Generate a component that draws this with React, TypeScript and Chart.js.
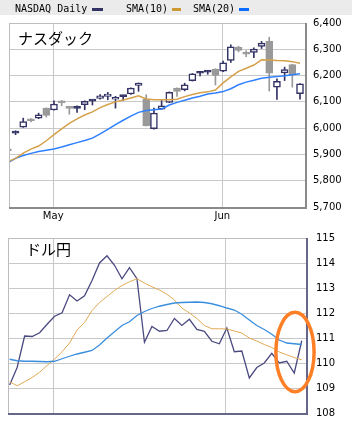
import React, { useEffect, useRef } from 'react';
import { Chart, registerables } from 'chart.js';

Chart.register(...registerables);

// ---------- NASDAQ (top panel) ----------
const nasdaqDates = [
  '2017-04-21', '2017-04-24', '2017-04-25', '2017-04-26', '2017-04-27', '2017-04-28',
  '2017-05-01', '2017-05-02', '2017-05-03', '2017-05-04', '2017-05-05', '2017-05-08',
  '2017-05-09', '2017-05-10', '2017-05-11', '2017-05-12', '2017-05-15', '2017-05-16',
  '2017-05-17', '2017-05-18', '2017-05-19', '2017-05-22', '2017-05-23', '2017-05-24',
  '2017-05-25', '2017-05-26', '2017-05-30', '2017-05-31', '2017-06-01', '2017-06-02',
  '2017-06-05', '2017-06-06', '2017-06-07', '2017-06-08', '2017-06-09', '2017-06-12',
  '2017-06-13', '2017-06-14', '2017-06-15',
];
const nasdaqOpen = [
  5921, 5981, 6004, 6030, 6038, 6076, 6069, 6104, 6077, 6075, 6089, 6103, 6113,
  6121, 6110, 6120, 6130, 6163, 6110, 5998, 6072, 6098, 6152, 6146, 6181, 6209,
  6213, 6225, 6217, 6258, 6308, 6283, 6288, 6311, 6331, 6156, 6210, 6242, 6131,
];
const nasdaqHigh = [
  5922, 5990, 6038, 6036, 6057, 6077, 6104, 6105, 6079, 6085, 6104, 6108, 6128,
  6136, 6121, 6125, 6153, 6172, 6127, 6076, 6105, 6138, 6153, 6171, 6208, 6216,
  6220, 6226, 6255, 6317, 6312, 6295, 6306, 6330, 6346, 6188, 6232, 6243, 6170,
];
const nasdaqLow = [
  5912, 5975, 6003, 6024, 6036, 6042, 6068, 6085, 6053, 6060, 6070, 6088, 6110,
  6108, 6076, 6105, 6128, 6140, 6008, 5996, 6071, 6097, 6121, 6142, 6179, 6199,
  6205, 6164, 6215, 6250, 6290, 6272, 6268, 6303, 6141, 6109, 6181, 6156, 6110,
];
const nasdaqClose = [
  5913, 5983, 6025, 6028, 6051, 6048, 6092, 6096, 6075, 6077, 6102, 6105, 6123,
  6130, 6117, 6122, 6152, 6171, 6009, 6057, 6085, 6136, 6140, 6165, 6207, 6211,
  6215, 6201, 6248, 6309, 6296, 6281, 6301, 6324, 6209, 6178, 6223, 6202, 6169,
];
const nasdaqSma10 = [
  5872, 5885, 5905, 5920, 5932, 5952, 5975, 5997, 6018, 6035, 6050, 6062, 6078,
  6090, 6100, 6107, 6115, 6123, 6111, 6108, 6108, 6108, 6110, 6120, 6128, 6135,
  6138, 6145, 6172, 6195, 6216, 6228, 6240, 6260, 6259, 6257, 6256, 6253, 6247,
];
const nasdaqSma20 = [
  5868, 5885, 5896, 5904, 5911, 5916, 5921, 5928, 5937, 5945, 5953, 5962, 5978,
  5995, 6013, 6030, 6046, 6060, 6067, 6070, 6073, 6088, 6098, 6106, 6115, 6121,
  6130, 6134, 6139, 6150, 6165, 6175, 6182, 6190, 6194, 6196, 6199, 6203, 6207,
];
const nasdaqAxisMin = 5700;
const nasdaqAxisMax = 6400;
const nasdaqAxisStep = 100;

// ---------- USD/JPY (bottom panel) ----------
const fxDates = [
  '2017-04-21', '2017-04-24', '2017-04-25', '2017-04-26', '2017-04-27', '2017-04-28',
  '2017-05-01', '2017-05-02', '2017-05-03', '2017-05-04', '2017-05-05', '2017-05-08',
  '2017-05-09', '2017-05-10', '2017-05-11', '2017-05-12', '2017-05-15', '2017-05-16',
  '2017-05-17', '2017-05-18', '2017-05-19', '2017-05-22', '2017-05-23', '2017-05-24',
  '2017-05-25', '2017-05-26', '2017-05-29', '2017-05-30', '2017-05-31', '2017-06-01',
  '2017-06-02', '2017-06-05', '2017-06-06', '2017-06-07', '2017-06-08', '2017-06-09',
  '2017-06-12', '2017-06-13', '2017-06-14', '2017-06-15',
];
const usdJpy = [
  109.12, 109.82, 111.08, 111.06, 111.21, 111.55, 111.87, 112.01, 112.73, 112.48,
  112.69, 113.3, 114.0, 114.29, 113.91, 113.37, 113.81, 113.37, 110.83, 111.46,
  111.27, 111.3, 111.78, 111.5, 111.75, 111.34, 111.27, 110.87, 110.77, 111.4,
  110.45, 110.48, 109.4, 109.82, 110.0, 110.39, 110.0, 110.07, 109.6, 110.89,
];
const usdJpySma10 = [
  109.25, 109.09, 109.25, 109.42, 109.63, 109.9, 110.16, 110.45, 110.8, 111.32,
  111.62, 112.1, 112.42, 112.66, 112.9, 113.1, 113.25, 113.37, 113.2, 113.05,
  112.92, 112.75, 112.52, 112.2, 112.0, 111.78, 111.5, 111.37, 111.37, 111.36,
  111.28, 111.2, 111.0, 110.88, 110.74, 110.62, 110.44, 110.33, 110.22, 110.13,
];
const usdJpySma20 = [
  110.15, 110.09, 110.07, 110.07, 110.06, 110.05, 110.07, 110.17, 110.27, 110.36,
  110.43, 110.5, 110.72, 111.0, 111.25, 111.5, 111.65, 111.9, 112.06, 112.18,
  112.27, 112.34, 112.4, 112.42, 112.43, 112.44, 112.42, 112.37, 112.29, 112.2,
  112.12, 111.95, 111.72, 111.5, 111.34, 111.15, 110.92, 110.8, 110.77, 110.74,
];
const fxAxisMin = 108;
const fxAxisMax = 115;
const fxAxisStep = 1;

// Highlight ellipse around the latest USD/JPY moves (data units)
const highlightCenterIdx = 38.1;
const highlightCenterValue = 110.44;
const highlightHalfWidthIdx = 2.55;
const highlightHalfHeightValue = 1.59;

// Month ticks
const monthLabels = ['May', 'Jun'];
const monthStartDates = ['2017-05-01', '2017-06-01'];

// Legend entries
const legendLabels = ['NASDAQ Daily', 'SMA(10)', 'SMA(20)'];

// ---------- styles ----------
const NAVY = '#333366';
const GREY = '#999999';
const ORANGE = '#d4a04a';
const BLUE = '#2f80ff';
const GRID = '#c8c8c8';
const TICK_FONT = { family: 'DejaVu Sans', size: 10 };

const monthTickValues = (dates: string[], shift: number) =>
  monthStartDates.map((d) => dates.indexOf(d) - shift);

const framePlugin = (
  id: string,
  title: string,
  titleX: number,
  titleY: number,
  light: string,
  dark: string,
) => ({
  id,
  afterDraw(chart: any) {
    const { ctx, chartArea: a } = chart;
    ctx.save();
    ctx.lineWidth = 1;
    ctx.strokeStyle = light;
    ctx.beginPath();
    ctx.moveTo(a.left + 0.5, a.bottom);
    ctx.lineTo(a.left + 0.5, a.top + 0.5);
    ctx.lineTo(a.right, a.top + 0.5);
    ctx.stroke();
    ctx.lineWidth = 2;
    ctx.strokeStyle = dark;
    ctx.beginPath();
    ctx.moveTo(a.left, a.bottom + 1);
    ctx.lineTo(a.right + 1, a.bottom + 1);
    ctx.lineTo(a.right + 1, a.top);
    ctx.stroke();
    ctx.fillStyle = '#000';
    ctx.font = '15px "Noto Sans CJK JP"';
    ctx.textBaseline = 'middle';
    ctx.textAlign = 'left';
    ctx.fillText(title, titleX, titleY);
    ctx.restore();
  },
});

const legendPlugin = {
  id: 'legendBand',
  beforeDraw(chart: any) {
    const { ctx, width } = chart;
    ctx.save();
    ctx.fillStyle = '#ebebeb';
    ctx.fillRect(0, 0, width, 15);
    ctx.font = '10px "DejaVu Sans Mono"';
    ctx.textBaseline = 'middle';
    ctx.fillStyle = '#000';
    const textX = [15, 126, 193];
    const swatchX = [92, 172, 239];
    const swatchW = [11, 9, 10];
    const colors = [NAVY, '#cc9933', '#0a6cff'];
    legendLabels.forEach((label, i) => {
      ctx.fillStyle = '#000';
      ctx.fillText(label, textX[i], 9);
      ctx.fillStyle = colors[i];
      ctx.fillRect(swatchX[i], 8, swatchW[i], 3);
    });
    ctx.restore();
  },
};

const ellipsePlugin = {
  id: 'highlight',
  afterDraw(chart: any) {
    const { ctx, scales } = chart;
    const xs = scales.x;
    const ys = scales.y;
    const cx = xs.getPixelForValue(highlightCenterIdx);
    const cy = ys.getPixelForValue(highlightCenterValue);
    const rx = Math.abs(xs.getPixelForValue(highlightCenterIdx + highlightHalfWidthIdx) - cx);
    const ry = Math.abs(ys.getPixelForValue(highlightCenterValue + highlightHalfHeightValue) - cy);
    ctx.save();
    ctx.strokeStyle = '#ff7f27';
    ctx.lineWidth = 3.5;
    ctx.beginPath();
    ctx.ellipse(cx, cy, rx, ry, 0, 0, Math.PI * 2);
    ctx.stroke();
    ctx.restore();
  },
};

export default function App() {
  const topRef = useRef<HTMLCanvasElement>(null);
  const botRef = useRef<HTMLCanvasElement>(null);

  useEffect(() => {
    const up = nasdaqOpen.map((o, i) => nasdaqClose[i] >= o);
    const doji = nasdaqOpen.map((o, i) => Math.abs(nasdaqClose[i] - o) <= 3);
    const candleColor = up.map((u) => (u ? NAVY : GREY));
    const bodyFill = up.map((u, i) => (doji[i] ? candleColor[i] : u ? '#ffffff' : GREY));

    const topMonthTicks = monthTickValues(nasdaqDates, 0.1);
    const fxMonthTicks = monthTickValues(fxDates, 0.15);

    const topChart = new Chart(topRef.current as HTMLCanvasElement, {
      type: 'bar',
      data: {
        datasets: [
          {
            type: 'line',
            data: nasdaqSma10.map((v, i) => ({ x: i, y: v })),
            borderColor: ORANGE,
            borderWidth: 1.5,
            pointRadius: 0,
            tension: 0,
            order: 0,
          } as any,
          {
            type: 'line',
            data: nasdaqSma20.map((v, i) => ({ x: i, y: v })),
            borderColor: BLUE,
            borderWidth: 1.5,
            pointRadius: 0,
            tension: 0,
            order: 0,
          } as any,
          {
            type: 'bar',
            data: nasdaqOpen.map((o, i) => ({ x: i, y: [o, nasdaqClose[i]] })),
            backgroundColor: bodyFill,
            borderColor: candleColor,
            borderWidth: 1.5,
            borderSkipped: false,
            barThickness: 7,
            minBarLength: 2,
            grouped: false,
            order: 1,
          } as any,
          {
            type: 'bar',
            data: nasdaqLow.map((l, i) => ({ x: i, y: [l, nasdaqHigh[i]] })),
            backgroundColor: candleColor,
            borderWidth: 0,
            barThickness: 1,
            grouped: false,
            order: 2,
          } as any,
        ],
      },
      options: {
        responsive: false,
        animation: false,
        layout: { padding: { top: 23, left: 9, right: 0, bottom: 0 } },
        plugins: { legend: { display: false }, tooltip: { enabled: false } },
        scales: {
          x: {
            type: 'linear',
            min: 0.15,
            max: 38.65,
            offset: false,
            grid: { color: GRID, drawTicks: false, offset: false },
            border: { display: false },
            afterBuildTicks: (axis: any) => {
              axis.ticks = topMonthTicks.map((v) => ({ value: v }));
            },
            afterFit: (axis: any) => {
              axis.height = 15;
            },
            ticks: {
              autoSkip: false,
              maxRotation: 0,
              padding: 3,
              color: '#000',
              font: TICK_FONT,
              callback: (_v: any, i: number) => monthLabels[i],
            },
          },
          y: {
            position: 'right',
            min: nasdaqAxisMin,
            max: nasdaqAxisMax,
            beginAtZero: false,
            grid: { color: GRID, drawTicks: false },
            border: { display: false },
            afterFit: (axis: any) => {
              axis.width = 47;
            },
            ticks: {
              stepSize: nasdaqAxisStep,
              padding: 8,
              color: '#000',
              font: TICK_FONT,
              callback: (v: any) => Number(v).toLocaleString('en-US'),
            },
          },
        },
      } as any,
      plugins: [legendPlugin, framePlugin('topFrame', 'ナスダック', 18, 38.5, '#bdbdbd', '#8a8a8a')],
    });

    const botChart = new Chart(botRef.current as HTMLCanvasElement, {
      type: 'line',
      data: {
        datasets: [
          {
            data: usdJpySma20.map((v, i) => ({ x: i, y: v })),
            borderColor: '#3a8ede',
            borderWidth: 1.3,
            pointRadius: 0,
            tension: 0,
          },
          {
            data: usdJpySma10.map((v, i) => ({ x: i, y: v })),
            borderColor: '#e0aa55',
            borderWidth: 1,
            pointRadius: 0,
            tension: 0,
          },
          {
            data: usdJpy.map((v, i) => ({ x: i, y: v })),
            borderColor: '#4a4a80',
            borderWidth: 1.3,
            pointRadius: 0,
            tension: 0,
          },
        ],
      },
      options: {
        responsive: false,
        animation: false,
        layout: { padding: { top: 10, left: 8, right: 0, bottom: 13 } },
        plugins: { legend: { display: false }, tooltip: { enabled: false } },
        scales: {
          x: {
            type: 'linear',
            min: -0.22,
            max: 39.57,
            offset: false,
            grid: { color: GRID, drawTicks: false, offset: false },
            border: { display: false },
            afterBuildTicks: (axis: any) => {
              axis.ticks = fxMonthTicks.map((v) => ({ value: v }));
            },
            afterFit: (axis: any) => {
              axis.height = 0;
            },
            ticks: { display: false },
          },
          y: {
            position: 'right',
            min: fxAxisMin,
            max: fxAxisMax,
            grid: { color: GRID, drawTicks: false },
            border: { display: false },
            afterFit: (axis: any) => {
              axis.width = 46;
            },
            ticks: {
              stepSize: fxAxisStep,
              padding: 10,
              color: '#000',
              font: TICK_FONT,
            },
          },
        },
      } as any,
      plugins: [framePlugin('botFrame', 'ドル円', 26, 27, '#bdbdbd', '#66668a'), ellipsePlugin],
    });

    return () => {
      topChart.destroy();
      botChart.destroy();
    };
  }, []);

  return (
    <div
      style={{
        position: 'absolute',
        left: 0,
        top: 0,
        width: 352,
        height: 429,
        background: '#ffffff',
      }}
    >
      <canvas ref={topRef} width={352} height={222} style={{ position: 'absolute', left: 0, top: 0 }} />
      <canvas ref={botRef} width={352} height={207} style={{ position: 'absolute', left: 0, top: 222 }} />
    </div>
  );
}
